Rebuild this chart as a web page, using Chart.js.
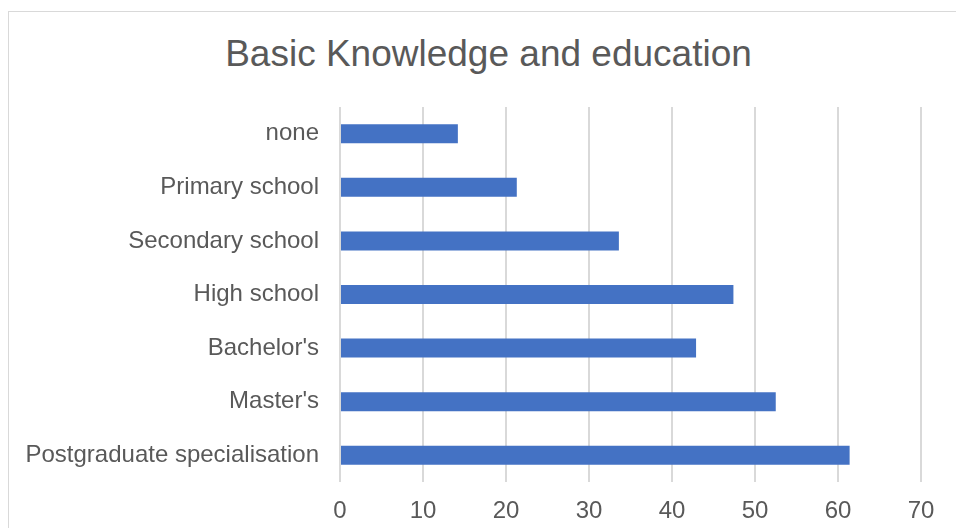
<!DOCTYPE html>
<html>
<head>
<meta charset="utf-8">
<script src="https://cdn.jsdelivr.net/npm/chart.js@4"></script>
<style>
  html, body { margin: 0; padding: 0; overflow: hidden; background: #fff; }
  #frame {
    position: absolute; left: 8px; top: 11px;
    width: 959px; height: 600px;
    border: 1px solid #d9d9d9;
  }
  #titulo {
    position: absolute; left: 0; right: 0; top: 20px;
    margin: 0; text-align: center;
    font: normal 37px 'Liberation Sans', Arial, sans-serif;
    line-height: 1.2;
    color: #595959;
  }
  #wrap { position: absolute; left: 0; top: 0; width: 956px; height: 528px; }
</style>
</head>
<body>
<div id="frame"><div id="titulo">Basic Knowledge and education</div></div>
<div id="wrap"><canvas id="grafica"></canvas></div>
<script>
const niveles = ['none', 'Primary school', 'Secondary school', 'High school', "Bachelor's", "Master's", 'Postgraduate specialisation'];
const valores = [14.2, 21.3, 33.6, 47.4, 42.9, 52.5, 61.4];
const ejeMin = 0;
const ejeMax = 70;
const paso = 10;

const gris = '#595959';
const fuente = 'Liberation Sans, Arial, sans-serif';

const ctx = document.getElementById('grafica').getContext('2d');

let ch = new Chart(ctx, {
    type: 'bar',
    data: {
        labels: niveles,
        datasets: [{
            label: 'Basic Knowledge and education',
            data: valores,
            backgroundColor: '#4472C4',
            borderWidth: 0,
            categoryPercentage: 1,
            barPercentage: 0.355
        }]
    },
    options: {
        indexAxis: 'y',
        responsive: true,
        maintainAspectRatio: false,
        animation: false,
        layout: {
            padding: { left: 0, right: 35, top: 107, bottom: 0 }
        },
        plugins: {
            legend: { display: false },
            tooltip: { enabled: false },
            title: { display: false }
        },
        scales: {
            x: {
                min: ejeMin,
                max: ejeMax,
                ticks: {
                    stepSize: paso,
                    color: gris,
                    font: { family: fuente, size: 24 },
                    padding: 15
                },
                grid: {
                    color: '#d9d9d9',
                    lineWidth: 2,
                    drawTicks: false
                },
                border: { display: false },
                afterFit: function(scale) {
                    scale.height = 46;
                }
            },
            y: {
                ticks: {
                    color: gris,
                    font: { family: fuente, size: 24 },
                    padding: 21
                },
                grid: { display: false, drawTicks: false },
                border: { display: false },
                afterFit: function(scale) {
                    scale.width = 340;
                }
            }
        }
    }
});
</script>
</body>
</html>
